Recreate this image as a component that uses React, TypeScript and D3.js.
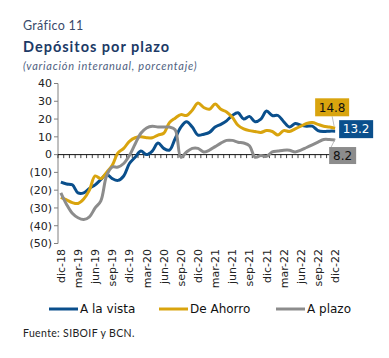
import React from "react";
import * as d3 from "d3";

const monthNames = ["ene", "feb", "mar", "abr", "may", "jun", "jul", "ago", "sep", "oct", "nov", "dic"];
// categories: dic-18 .. dic-22 (monthly)
const categories: string[] = [];
for (let k = 0; k < 49; k++) {
  const m = (11 + k) % 12;
  const y = 18 + Math.floor((11 + k) / 12);
  categories.push(`${monthNames[m]}-${y}`);
}

const aLaVista = [
  -15.5, -16.5, -17, -21.5, -21.5, -19, -17, -14, -11, -13.5, -14.5, -12, -5,
  -1.5, 2, 0, 2, 6.5, 3.5, 2.5, 9, 15.5, 18.5, 15.5, 11, 11.5, 12.5, 15.5, 17,
  19, 22, 23.5, 20, 21.5, 18.5, 20, 24.5, 22, 22, 18.5, 15.5, 17.5, 16.5, 16,
  16, 13.5, 13, 13.2, 13.2,
];
const deAhorro = [
  -24, -25.5, -27, -27.5, -25, -20, -12, -13.5, -10, -6, 1, 3.5, 7.5, 9.5, 10,
  9.5, 9.5, 11, 12, 18, 20.5, 22.5, 22, 25, 29, 26.5, 25.5, 28.5, 25.5, 24, 21,
  16.5, 14.5, 13.5, 13, 12.5, 13.5, 13, 11, 13.5, 13, 14.5, 16, 17.5, 18, 17,
  16, 15.5, 14.8,
];
const aPlazo = [
  -21.5, -28, -33, -35.5, -36.5, -35, -30, -26, -12, -7, -7, -5, -0.5, 6, 12,
  15, 16, 15.5, 15.5, 15.5, 14, -1.5, 1.5, 3.5, 3.5, 1.5, 2.5, 4.5, 6.5, 8, 8,
  7, 6.5, 5, -1.5, -0.5, -1, 1.5, 2, 2.5, 2.5, 1.5, 2.5, 4, 5.5, 7, 8.5, 8.5,
  8.2,
];
const yTicks = [40, 30, 20, 10, 0, -10, -20, -30, -40, -50];
const seriesNames = ["A la vista", "De Ahorro", "A plazo"];
const colors = ["#0A4F8C", "#D9A40E", "#8C8C8C"];

const W = 389;
const H = 358;

export default function App() {
  const x = d3.scaleBand<number>().domain(d3.range(categories.length)).range([58, 338]).padding(0);
  const cx = (i: number) => (x(i) as number) + x.bandwidth() / 2;
  const y = d3.scaleLinear().domain([-50, 40]).range([243.5, 83.5]);
  const line = d3
    .line<number>()
    .x((_, i) => cx(i))
    .y((d) => y(d))
    .curve(d3.curveCatmullRom.alpha(0.5));
  const series = [aLaVista, deAhorro, aPlazo];
  const last = categories.length - 1;
  const fmtY = (v: number) => (v < 0 ? `(${Math.abs(v)})` : `${v}`);
  const axisFont = "DejaVu Sans, Verdana, sans-serif";
  const titleFont = "Lato, 'Noto Sans', sans-serif";

  const endX = cx(last);
  const boxes = [
    { v: deAhorro[last], fill: colors[1], text: "#111", bx: endX - 20, by: y(deAhorro[last]) - 30, w: 34, h: 18 },
    { v: aLaVista[last], fill: colors[0], text: "#fff", bx: endX + 4, by: y(aLaVista[last]) - 11, w: 34, h: 18 },
    { v: aPlazo[last], fill: colors[2], text: "#111", bx: endX - 6, by: y(aPlazo[last]) + 7, w: 27, h: 17 },
  ];

  return (
    <svg width={W} height={H} style={{ position: "absolute", left: 0, top: 0, background: "#fff" }}>
      <text x={23} y={30} fontFamily={titleFont} fontSize={12.5} fill="#3A4A6B" letterSpacing={0.3}>
        Gráfico 11
      </text>
      <text x={23} y={52} fontFamily={titleFont} fontSize={14.5} fontWeight="bold" fill="#1C3A66" letterSpacing={1}>
        Depósitos por plazo
      </text>
      <text x={23} y={70} fontFamily={titleFont} fontSize={11} fontStyle="italic" fill="#4F5F7F" letterSpacing={0.75}>
        (variación interanual, porcentaje)
      </text>

      {/* y axis */}
      <line x1={58} x2={58} y1={y(40)} y2={y(-50)} stroke="#808080" strokeWidth={1} />
      {yTicks.map((t) => (
        <g key={t}>
          <line x1={54} x2={58} y1={y(t)} y2={y(t)} stroke="#808080" />
          <text x={52} y={y(t)} dy="0.35em" textAnchor="end" fontFamily={axisFont} fontSize={11} fill="#222">
            {fmtY(t)}
          </text>
        </g>
      ))}

      {/* zero line with month ticks */}
      <line x1={58} x2={338} y1={y(0)} y2={y(0)} stroke="#111" strokeWidth={1} />
      {d3.range(categories.length + 1).map((i) => {
        const xx = 58 + i * x.bandwidth();
        return <line key={i} x1={xx} x2={xx} y1={y(0)} y2={y(0) + 3.5} stroke="#111" strokeWidth={0.8} />;
      })}

      {/* x labels */}
      {categories.map((c, i) =>
        i % 3 === 0 ? (
          <text
            key={c}
            transform={`translate(${cx(i) + 4},249) rotate(-90)`}
            textAnchor="end"
            fontFamily={axisFont}
            fontSize={11}
            fill="#222"
          >
            {c}
          </text>
        ) : null
      )}

      {/* series */}
      {series.map((s, k) => (
        <path key={k} d={line(s) || ""} fill="none" stroke={colors[k]} strokeWidth={3} strokeLinejoin="round" />
      ))}

      {/* end labels */}
      <line x1={endX - 3} y1={boxes[0].by + boxes[0].h} x2={endX - 1} y2={y(deAhorro[last]) - 2} stroke="#aaa" strokeWidth={0.8} />
      <line x1={endX} y1={y(aPlazo[last]) - 1} x2={boxes[2].bx + 2} y2={boxes[2].by} stroke="#aaa" strokeWidth={0.8} />
      {boxes.map((b, k) => (
        <g key={k}>
          <rect x={b.bx} y={b.by} width={b.w} height={b.h} fill={b.fill} />
          <text
            x={b.bx + b.w / 2}
            y={b.by + b.h / 2}
            dy="0.36em"
            textAnchor="middle"
            fontFamily={axisFont}
            fontSize={12}
            fill={b.text}
          >
            {b.v.toFixed(1)}
          </text>
        </g>
      ))}

      {/* legend */}
      {seriesNames.map((n, k) => {
        const lx = [49, 159, 276][k];
        return (
          <g key={n}>
            <line x1={lx} x2={lx + 29} y1={309} y2={309} stroke={colors[k]} strokeWidth={3} />
            <text x={lx + 31} y={309} dy="0.35em" fontFamily={axisFont} fontSize={12} fill="#111">
              {n}
            </text>
          </g>
        );
      })}

      <text x={23} y={337} fontFamily={titleFont} fontSize={10.5} fill="#222" letterSpacing={0.35}>
        Fuente: SIBOIF y BCN.
      </text>
    </svg>
  );
}
